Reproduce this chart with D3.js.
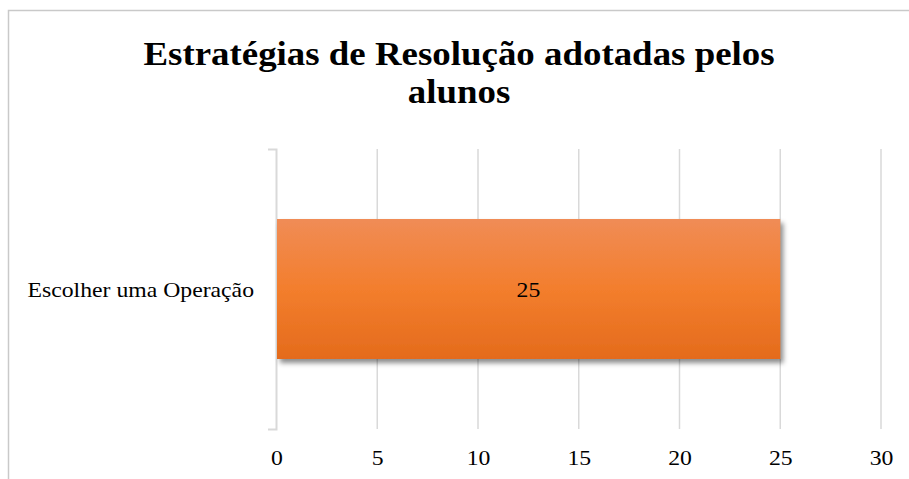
<!DOCTYPE html>
<html>
<head>
<meta charset="utf-8">
<script src="https://cdn.jsdelivr.net/npm/d3@7"></script>
<style>
  body { margin: 0; background: #fff; }
  svg text { font-family: "Liberation Serif", "DejaVu Serif", serif; fill: #000; }
</style>
</head>
<body>
<div id="chart"></div>
<script>
// data
var categories = ["Escolher uma Operação"];
var values = [25];
var xTicks = [0, 5, 10, 15, 20, 25, 30];
var titleLines = ["Estratégias de Resolução adotadas pelos", "alunos"];

var width = 909, height = 479;
var serif = '"Liberation Serif", "DejaVu Serif", serif';
var stretch = 1.13; // the original text is a bit wider than Liberation Serif

var svg = d3.select("#chart").append("svg")
  .attr("width", width)
  .attr("height", height);

var defs = svg.append("defs");

// orange gradient of the bar
var grad = defs.append("linearGradient")
  .attr("id", "barGrad")
  .attr("x1", 0).attr("y1", 0).attr("x2", 0).attr("y2", 1);
grad.append("stop").attr("offset", "0%").attr("stop-color", "#f08c56");
grad.append("stop").attr("offset", "50%").attr("stop-color", "#f37e2d");
grad.append("stop").attr("offset", "100%").attr("stop-color", "#e46b1c");

// drop shadow
var shadow = defs.append("filter")
  .attr("id", "shadow")
  .attr("x", "-10%").attr("y", "-10%")
  .attr("width", "130%").attr("height", "130%");
shadow.append("feDropShadow")
  .attr("dx", 3).attr("dy", 4)
  .attr("stdDeviation", 2.5)
  .attr("flood-color", "#000")
  .attr("flood-opacity", 0.45);

// chart frame
svg.append("rect")
  .attr("x", 8.5).attr("y", 10.5)
  .attr("width", width + 20).attr("height", height + 20)
  .attr("fill", "none")
  .attr("stroke", "#c9c9c9")
  .attr("stroke-width", 1.5);

// title
svg.append("g")
  .attr("transform", "translate(459,65) scale(1.085,1)")
  .append("text")
  .attr("text-anchor", "middle")
  .style("font-family", serif)
  .style("font-size", "34px")
  .style("font-weight", "bold")
  .selectAll("tspan")
  .data(titleLines)
  .enter()
  .append("tspan")
  .attr("x", 0)
  .attr("y", (d, i) => i * 38)
  .text(d => d);

// scales
var x = d3.scaleLinear()
  .domain([0, 30])
  .range([276.5, 881]);

var y = d3.scaleBand()
  .domain(categories)
  .range([149, 429])
  .paddingInner(0)
  .paddingOuter(0.5);

// vertical gridlines
svg.append("g")
  .selectAll("line")
  .data(xTicks.slice(1))
  .enter()
  .append("line")
  .attr("x1", d => x(d)).attr("x2", d => x(d))
  .attr("y1", 149).attr("y2", 429)
  .attr("stroke", "#d9d9d9")
  .attr("stroke-width", 1.5);

// x axis labels (no line)
var xAxis = svg.append("g")
  .attr("transform", "translate(0,429)")
  .call(d3.axisBottom(x).tickValues(xTicks).tickSize(0).tickPadding(21));
xAxis.attr("font-family", null);
xAxis.select(".domain").remove();
xAxis.selectAll("text")
  .attr("transform", "scale(" + stretch + ",1)")
  .style("font-size", "21px")
  .style("font-family", serif);

// category axis with outer ticks
var yAxis = svg.append("g")
  .attr("transform", "translate(276,0)")
  .call(d3.axisLeft(y).tickSize(0).tickSizeOuter(8).tickPadding(22 / stretch));
yAxis.attr("font-family", null);
yAxis.select(".domain")
  .attr("stroke", "#d9d9d9")
  .attr("stroke-width", 2);
yAxis.selectAll("text")
  .attr("transform", "scale(" + stretch + ",1)")
  .attr("dy", "0.4em")
  .style("font-size", "21px")
  .style("font-family", serif);

// bars
svg.selectAll(".bar")
  .data(values)
  .enter()
  .append("rect")
  .attr("class", "bar")
  .attr("x", x(0) + 0.5)
  .attr("y", (d, i) => y(categories[i]))
  .attr("width", d => x(d) - x(0) - 0.5)
  .attr("height", y.bandwidth())
  .attr("fill", "url(#barGrad)")
  .attr("filter", "url(#shadow)");

// value labels
svg.selectAll(".val")
  .data(values)
  .enter()
  .append("g")
  .attr("class", "val")
  .attr("transform", (d, i) => "translate(" + (x(0) + x(d)) / 2 + "," +
        (y(categories[i]) + y.bandwidth() / 2 + 8) + ") scale(" + stretch + ",1)")
  .append("text")
  .attr("text-anchor", "middle")
  .style("font-size", "21px")
  .style("font-family", serif)
  .text(d => d);
</script>
</body>
</html>
